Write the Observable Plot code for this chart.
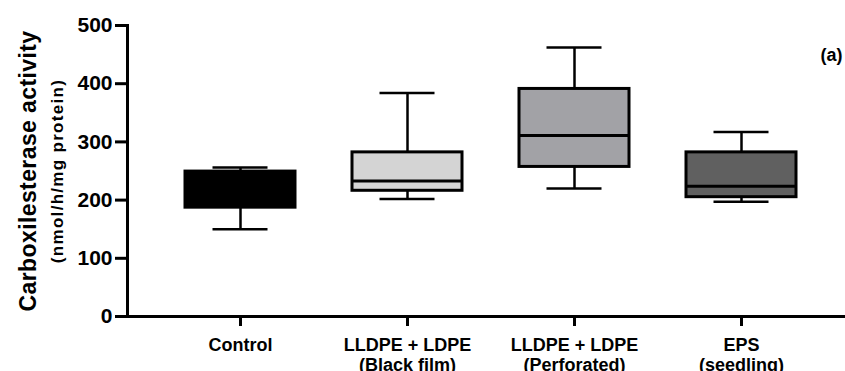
<!DOCTYPE html>
<html>
<head>
<meta charset="utf-8">
<script src="https://cdn.jsdelivr.net/npm/d3@7"></script>
<script src="https://cdn.jsdelivr.net/npm/@observablehq/plot@0.6"></script>
<style>
  body { margin: 0; background: #fff; }
  svg { font-family: "Liberation Sans", Arial, sans-serif; }
</style>
</head>
<body>
<div id="chart"></div>
<script>
const categories = ["Control", "LLDPE + LDPE\n(Black film)", "LLDPE + LDPE\n(Perforated)", "EPS\n(seedling)"];
const minValues = [150, 202, 220, 197];
const q1Values = [187, 216, 257, 205];
const medianValues = [225, 233, 311, 224];
const q3Values = [249, 282, 391, 282];
const maxValues = [256, 384, 462, 317];
const fills = ["#000000", "#d4d4d4", "#a2a2a6", "#606060"];
const yTicks = [0, 100, 200, 300, 400, 500];

const data = categories.map((c, i) => ({
  cat: c, min: minValues[i], q1: q1Values[i], med: medianValues[i], q3: q3Values[i], max: maxValues[i], fill: fills[i]
}));

const font = "Liberation Sans, Arial, sans-serif";

const plot = Plot.plot({
  width: 845,
  height: 371,
  marginLeft: 127,
  marginRight: 0,
  marginTop: 25,
  marginBottom: 55,
  style: { fontFamily: font, background: "#fff", color: "#000" },
  x: { domain: categories, range: [155.3, 824.6], paddingInner: 0.343, paddingOuter: 0.1715, align: 0.5, label: null },
  y: { domain: [0, 500], label: null },
  marks: [
    Plot.ruleX(data, { x: "cat", y1: "q3", y2: "max", stroke: "#000", strokeWidth: 2.5 }),
    Plot.ruleX(data, { x: "cat", y1: "min", y2: "q1", stroke: "#000", strokeWidth: 2.5 }),
    Plot.tickY(data, { x: "cat", y: "max", stroke: "#000", strokeWidth: 2.5, insetLeft: 27.5, insetRight: 27.5 }),
    Plot.tickY(data, { x: "cat", y: "min", stroke: "#000", strokeWidth: 2.5, insetLeft: 27.5, insetRight: 27.5 }),
    Plot.barY(data, { x: "cat", y1: "q1", y2: "q3", fill: "fill", stroke: "#000", strokeWidth: 3 }),
    Plot.tickY(data, { x: "cat", y: "med", stroke: "#000", strokeWidth: 3 }),
    Plot.frame({ anchor: "left", stroke: "#000", strokeWidth: 3 }),
    Plot.frame({ anchor: "bottom", stroke: "#000", strokeWidth: 3 }),
    Plot.axisY({ ticks: yTicks, tickSize: 12, tickPadding: 3, strokeWidth: 3, fontSize: 21, fontWeight: "bold", label: null }),
    Plot.axisX({ tickSize: 10, tickPadding: 10, strokeWidth: 3, fontSize: 18, fontWeight: "bold", lineHeight: 1.13, label: null }),
    Plot.text(["Carboxilesterase activity"], { frameAnchor: "left", dx: -99, rotate: -90, textAnchor: "middle", fontSize: 23, fontWeight: "bold", fill: "#000" }),
    Plot.text(["(nmol/h/mg protein)"], { frameAnchor: "left", dx: -70, rotate: -90, textAnchor: "middle", fontSize: 17, fontWeight: "bold", fill: "#000" }),
    Plot.text(["(a)"], { frameAnchor: "top-right", dx: -3, dy: 23, textAnchor: "end", fontSize: 18, fontWeight: "bold", fill: "#000" })
  ]
});

plot.querySelectorAll("text").forEach(t => {
  if (t.textContent === "Carboxilesterase activity") t.style.letterSpacing = "0.4px";
  if (t.textContent === "(nmol/h/mg protein)") t.style.letterSpacing = "1.3px";
});
document.getElementById("chart").appendChild(plot);
</script>
</body>
</html>
